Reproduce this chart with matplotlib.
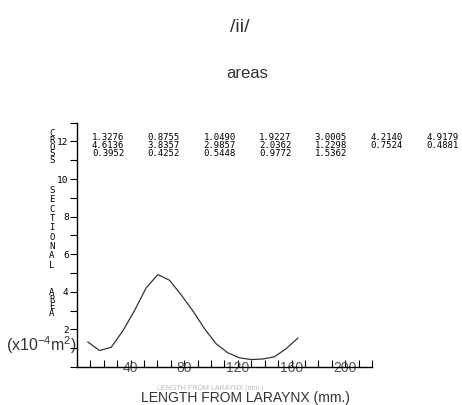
import numpy as np
import matplotlib
matplotlib.use("Agg")
import matplotlib.pyplot as plt
from matplotlib.ticker import MultipleLocator, FixedLocator

# cross sectional areas (x10^-4 m^2) along the tract
areas = [1.3276, 0.8755, 1.0490, 1.9227, 3.0005, 4.2140, 4.9179,
         4.6136, 3.8357, 2.9857, 2.0362, 1.2298, 0.7524, 0.4881,
         0.3952, 0.4252, 0.5448, 0.9772, 1.5362]
# distance from larynx (mm)
length_mm = [8.1, 16.8, 25.5, 34.2, 42.9, 51.6, 60.3, 69.0, 77.7, 86.4,
             95.1, 103.8, 112.5, 121.2, 129.9, 138.6, 147.3, 156.0, 164.7]
x_labels = [40, 80, 120, 160, 200]
y_labels = [2, 4, 6, 8, 10, 12]

plt.rcParams['mathtext.fontset'] = 'custom'
plt.rcParams['mathtext.rm'] = 'Liberation Sans'
plt.rcParams['mathtext.it'] = 'Liberation Sans'

mono = 'DejaVu Sans Mono'
sans = ['Liberation Sans', 'DejaVu Sans']
narrow = ['Liberation Sans Narrow', 'Liberation Sans', 'DejaVu Sans']

fig = plt.figure(figsize=(4.62, 4.05), dpi=100)
W, H = 462.0, 405.0
ax = fig.add_axes([77/W, 1-367/H, (372-77)/W, (367-122.6)/H])

ax.plot(length_mm, areas, color='#333333', lw=0.9)

ax.set_xlim(0, 220)
ax.set_ylim(0, 13)
for s in ['top', 'right']:
    ax.spines[s].set_visible(False)
for s in ['left', 'bottom']:
    ax.spines[s].set_linewidth(1.0)
    ax.spines[s].set_color('black')

# x ticks: point up, labels sitting on the axis line
ax.xaxis.set_major_locator(FixedLocator(x_labels))
ax.xaxis.set_minor_locator(MultipleLocator(10))
ax.set_xticklabels([str(v) for v in x_labels], fontsize=10, family=sans, color='#555555')
ax.tick_params(axis='x', which='both', direction='in', length=5, width=0.8, pad=-4)

# y ticks: point left
ax.yaxis.set_major_locator(FixedLocator(y_labels))
ax.yaxis.set_minor_locator(MultipleLocator(1))
ax.set_yticklabels([str(v) for v in y_labels], fontsize=6.8, family=mono)
ax.tick_params(axis='y', which='both', direction='out', length=5, width=0.8, pad=1)

# table of values at the top
cols = 7
for i, a in enumerate(areas):
    r, c = divmod(i, cols)
    fig.text((92 + 55.7*c)/W, 1-(138 + 7.5*r)/H, '%.4f' % a,
             family=mono, fontsize=6.5, va='center', ha='left')

# stacked y label, one block per word
for word, top, ls in [('CROSS', 129, 0.68), ('SECTIONAL', 186, 1.05), ('AREA', 288, 0.72)]:
    fig.text(52/W, 1-top/H, '\n'.join(word), family=mono, fontsize=6.5,
             ha='center', va='top', linespacing=ls, multialignment='center')

fig.text(42/W, 1-345/H, r'(x10$^{-4}$m$^{2}$)', fontsize=11.5, family=sans,
         ha='center', va='center', color='#333333')

fig.text(240/W, 1-27/H, '/ii/', fontsize=14, family=narrow, ha='center', va='center',
         color='#333333')
fig.text(247/W, 1-74/H, 'areas', fontsize=12, family=narrow, ha='center', va='center',
         color='#333333')

fig.text(210/W, 1-389/H, 'LENGTH FROM LARAYNX (mm.)', fontsize=5, family=narrow,
         ha='center', va='center', color='#bbbbbb')
fig.text(245/W, 1-398/H, 'LENGTH FROM LARAYNX (mm.)', fontsize=10, family=sans,
         ha='center', va='center', color='#333333')

fig.savefig('out.png', dpi=100)
